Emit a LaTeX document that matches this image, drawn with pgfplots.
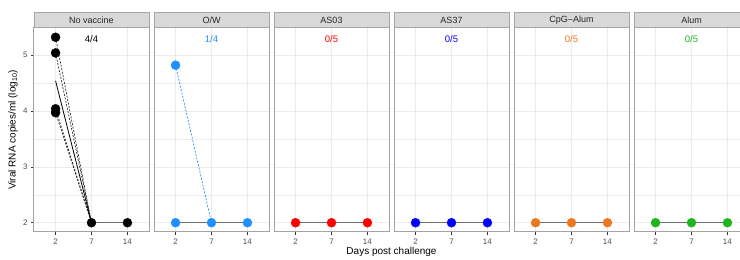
\documentclass[border=0pt]{standalone}
\usepackage{pgfplots}
\pgfplotsset{compat=1.18}
\usepackage{fontspec}
\setmainfont{Liberation Sans}
\definecolor{owblue}{HTML}{1E90FF}
\definecolor{asred}{HTML}{FF0000}
\definecolor{asblue}{HTML}{0000FF}
\definecolor{cpgorange}{HTML}{EE7621}
\definecolor{alumgreen}{HTML}{1FB51F}
\definecolor{gridgray}{HTML}{EBEBEB}
\definecolor{bordergray}{HTML}{A3A3A3}
\definecolor{stripgray}{HTML}{D9D9D9}
\definecolor{tickgray}{HTML}{333333}
\definecolor{labelgray}{HTML}{4D4D4D}
\definecolor{linegray}{HTML}{707070}
\pgfplotsset{
  facet/.style={
    at={(#1,28pt)}, anchor=south west, scale only axis,
    width=115pt, height=204pt,
    xmin=0.4, xmax=3.6, ymin=1.834, ymax=5.486,
    xtick={1,2,3}, xticklabels={2,7,14},
    ytick={2,3,4,5}, minor ytick={2.5,3.5,4.5},
    xmajorgrids, ymajorgrids, yminorgrids,
    major grid style={color=gridgray, line width=0.6pt},
    minor grid style={color=gridgray, line width=0.3pt},
    axis line style={draw=bordergray, line width=1pt},
    tick align=outside, xtick pos=left, ytick pos=left,
    major tick length=3pt, minor tick length=0pt,
    tick style={color=tickgray, line width=0.5pt},
    ticklabel style={font=\fontsize{8}{9}\selectfont, color=labelgray},
    /pgf/number format/assume math mode=true,
    clip=false,
  },
  inner/.style={yticklabels={}, ytick style={draw=none}},
  flat/.style={color=linegray, line width=1.1pt},
  dots/.style={only marks, mark=*, mark size=4.5pt, color=#1, mark options={draw=none, fill=#1}},
  dsh/.style={color=#1, line width=0.7pt, dash pattern=on 2pt off 1.5pt},
}
\newcommand{\annot}[2]{\node[font=\fontsize{9.5}{11}\selectfont, text=#1] at (axis cs:2,5.29) {#2};}
\newcommand{\strip}[2]{%
  \draw[fill=stripgray, draw=bordergray, line width=1pt] (#1,232pt) rectangle ++(115pt,15pt);
  \node[font=\fontsize{9}{10}\selectfont, text=black!85] at ([xshift=57.5pt]#1,239.5pt) {#2};}
\begin{document}
\begin{tikzpicture}
\useasboundingbox (0,0) rectangle (740pt,260pt);
% No vaccine
\begin{axis}[facet=34pt]
\addplot[dsh=black!85] coordinates {(1,5.32) (2,2)};
\addplot[dsh=black!85] coordinates {(1,5.04) (2,2)};
\addplot[dsh=black!85] coordinates {(1,4.04) (2,2)};
\addplot[dsh=black!85] coordinates {(1,3.97) (2,2)};
\addplot[black, line width=0.8pt] coordinates {(1,4.54) (2,2)};
\addplot[flat] coordinates {(2,2) (3,2)};
\addplot[dots=black] coordinates {(1,5.32) (1,5.04) (1,4.04) (1,3.97) (2,2) (3,2)};
\annot{black}{4/4}
\end{axis}
% O/W
\begin{axis}[facet=154pt, inner]
\addplot[dsh=owblue] coordinates {(1,4.82) (2,2)};
\addplot[flat] coordinates {(1,2) (2,2) (3,2)};
\addplot[dots=owblue] coordinates {(1,4.82) (1,2) (2,2) (3,2)};
\annot{owblue}{1/4}
\end{axis}
% AS03
\begin{axis}[facet=274pt, inner]
\addplot[flat] coordinates {(1,2) (2,2) (3,2)};
\addplot[dots=asred] coordinates {(1,2) (2,2) (3,2)};
\annot{asred}{0/5}
\end{axis}
% AS37
\begin{axis}[facet=394pt, inner]
\addplot[flat] coordinates {(1,2) (2,2) (3,2)};
\addplot[dots=asblue] coordinates {(1,2) (2,2) (3,2)};
\annot{asblue}{0/5}
\end{axis}
% CpG-Alum
\begin{axis}[facet=514pt, inner]
\addplot[flat] coordinates {(1,2) (2,2) (3,2)};
\addplot[dots=cpgorange] coordinates {(1,2) (2,2) (3,2)};
\annot{cpgorange}{0/5}
\end{axis}
% Alum
\begin{axis}[facet=634pt, inner]
\addplot[flat] coordinates {(1,2) (2,2) (3,2)};
\addplot[dots=alumgreen] coordinates {(1,2) (2,2) (3,2)};
\annot{alumgreen}{0/5}
\end{axis}
\strip{34pt}{No vaccine}
\strip{154pt}{O/W}
\strip{274pt}{AS03}
\strip{394pt}{AS37}
\strip{514pt}{CpG--Alum}
\strip{634pt}{Alum}
\node[font=\fontsize{10}{12}\selectfont, rotate=90] at (13pt,130pt) {Viral RNA copies/ml (log\textsubscript{10})};
\node[font=\fontsize{10}{12}\selectfont] at (391.5pt,8pt) {Days post challenge};
\end{tikzpicture}
\end{document}
